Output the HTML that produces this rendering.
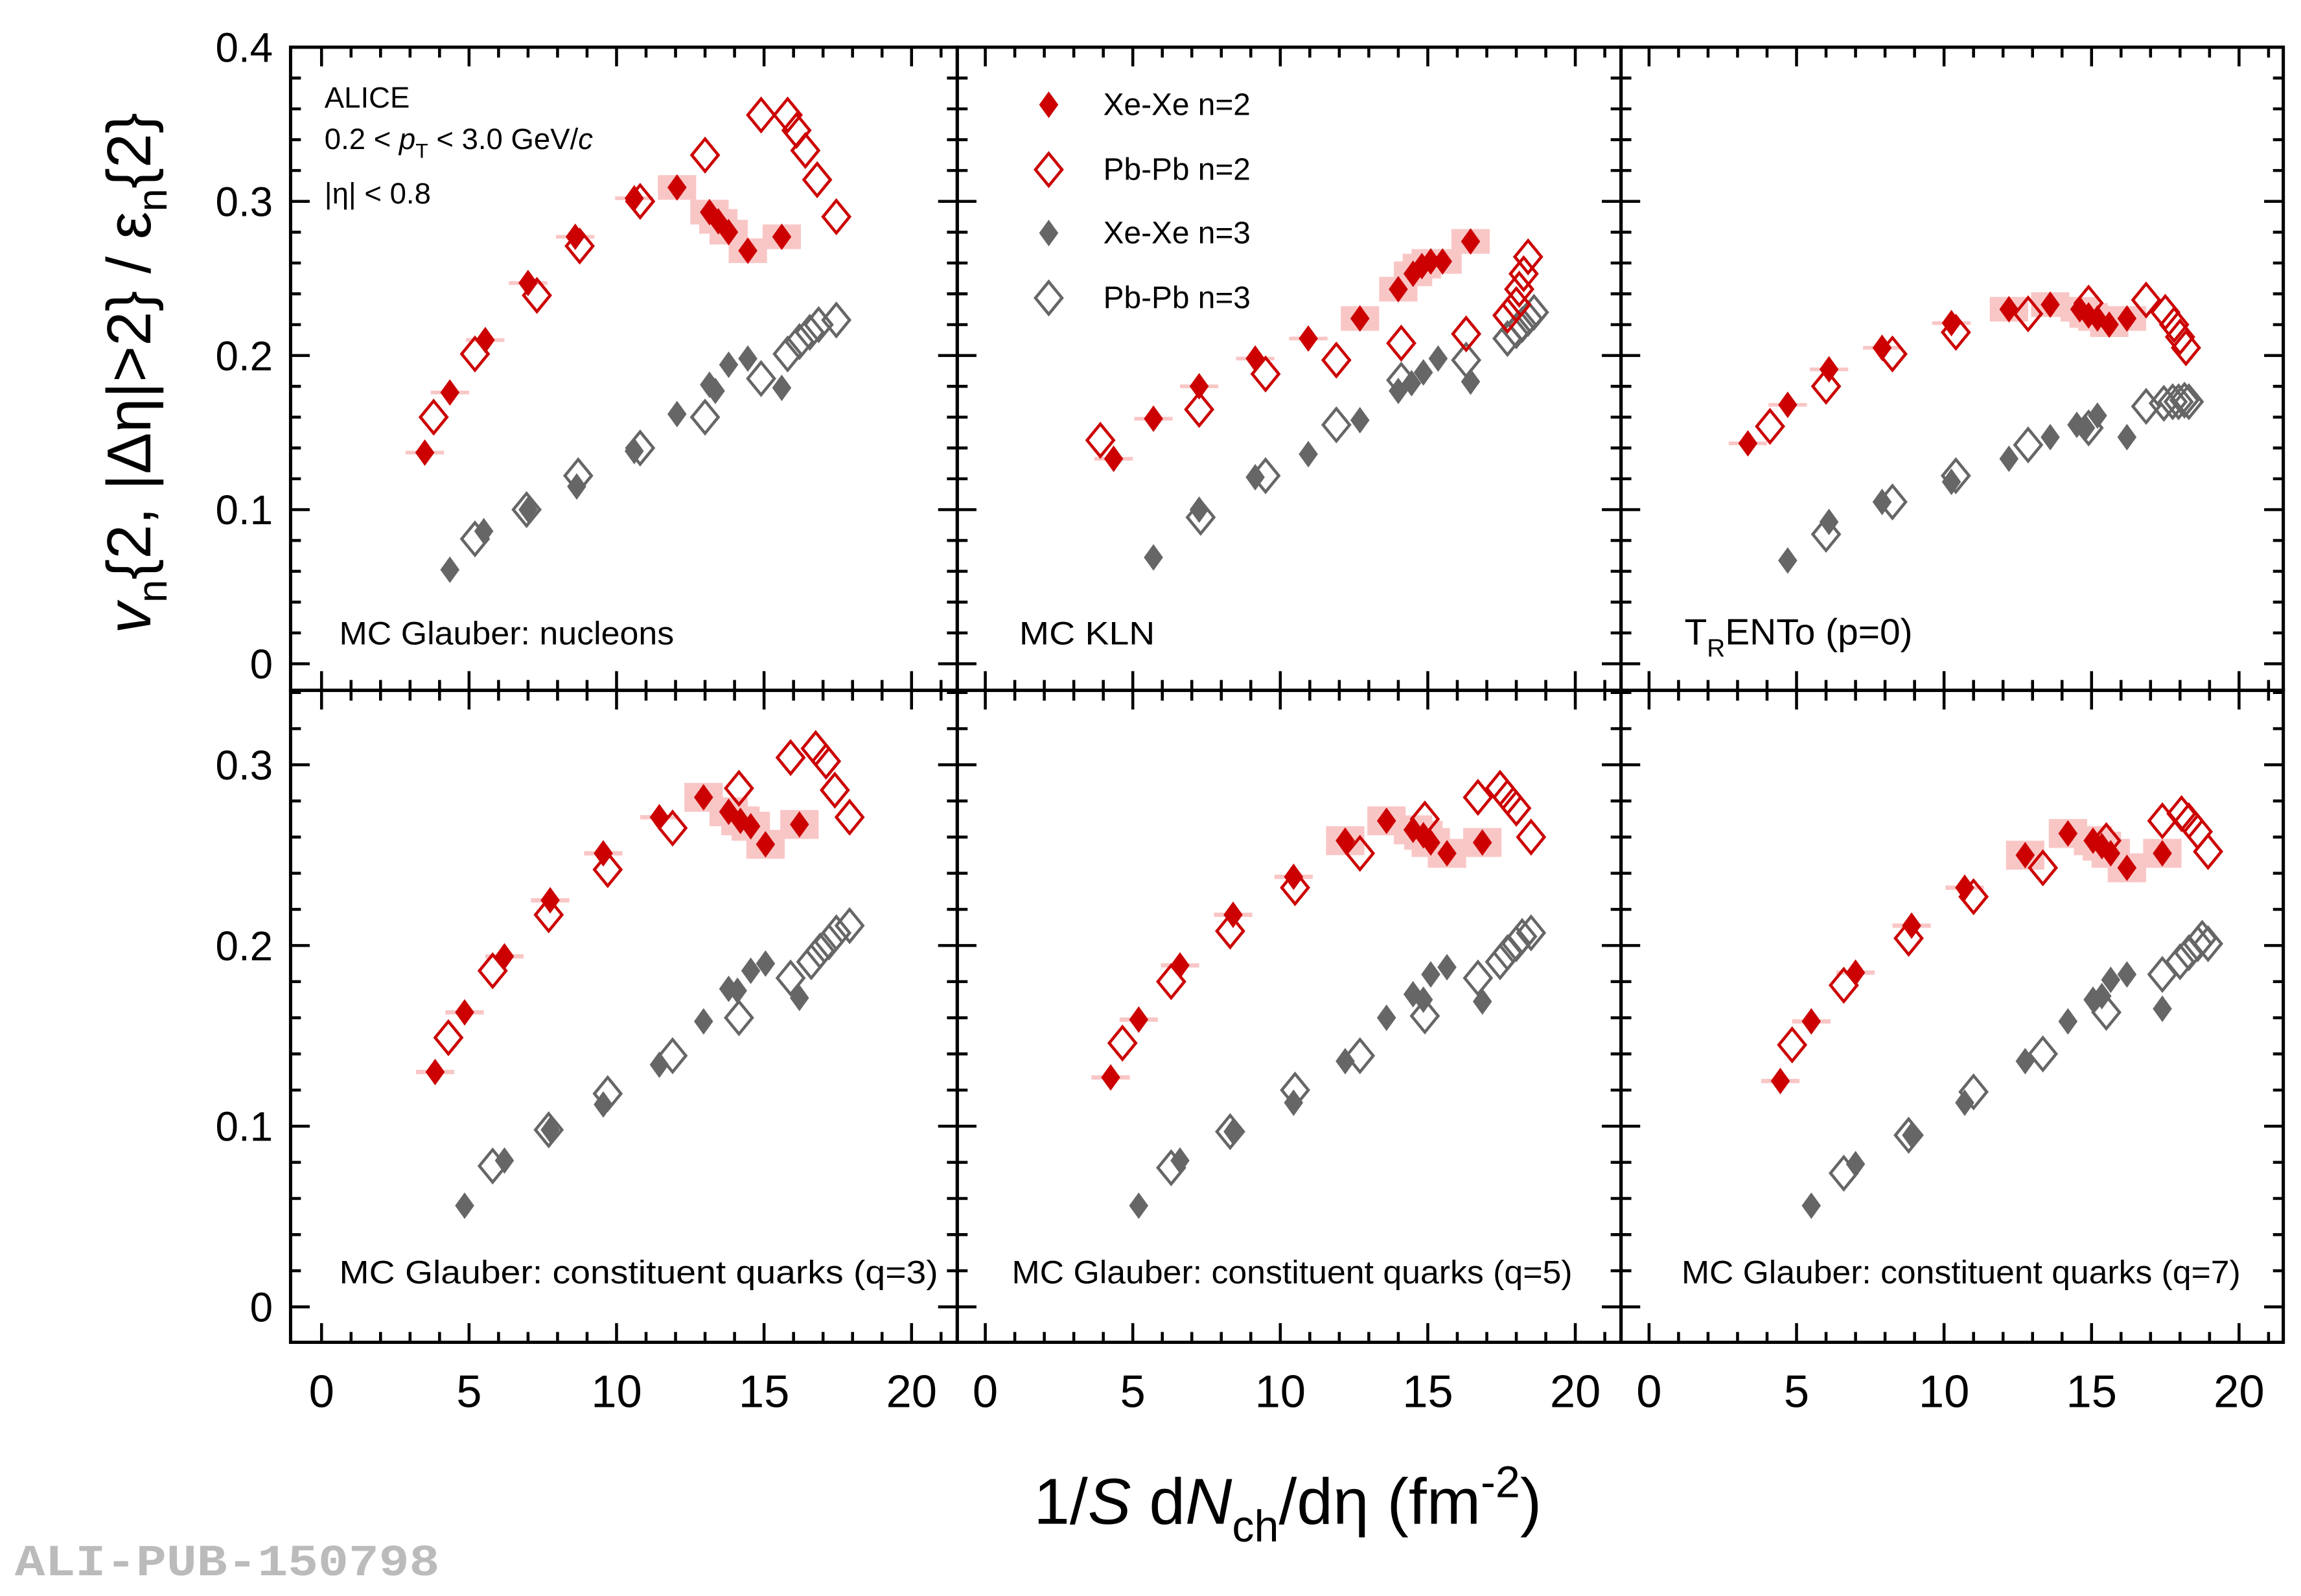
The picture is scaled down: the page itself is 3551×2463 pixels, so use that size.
<!DOCTYPE html>
<html><head><meta charset="utf-8"><style>
html,body{margin:0;padding:0;background:#fff;}
svg{display:block;font-family:"Liberation Sans",sans-serif;}
</style></head><body>
<svg id="chart" width="3551" height="2463" viewBox="0 0 1560 1082" preserveAspectRatio="none" xmlns="http://www.w3.org/2000/svg">
<rect x="0" y="0" width="1560" height="1082" fill="#fff"/>
<g id="layer"></g>
<text transform="translate(102,253) rotate(-90)" text-anchor="middle" font-size="42" fill="#000"><tspan font-style="italic">v</tspan><tspan font-size="28" dy="11">n</tspan><tspan dy="-11">{2, |Δη|&gt;2} / ε</tspan><tspan font-size="28" dy="11">n</tspan><tspan dy="-11">{2}</tspan></text>
<text x="873" y="1033" text-anchor="middle" font-size="44" fill="#000">1/<tspan font-style="italic">S</tspan> d<tspan font-style="italic">N</tspan><tspan font-size="30" dy="12">ch</tspan><tspan dy="-12">/dη (fm</tspan><tspan font-size="30" dy="-18">-2</tspan><tspan dy="18">)</tspan></text>
<text x="10" y="1068" font-family="Liberation Mono, monospace" font-weight="bold" font-size="30" textLength="288" lengthAdjust="spacingAndGlyphs" fill="#bbb">ALI-PUB-150798</text>
<g font-size="20" fill="#000">
<text x="220" y="73">ALICE</text>
<text x="220" y="101">0.2 &lt; <tspan font-style="italic">p</tspan><tspan font-size="14" dy="6">T</tspan><tspan dy="-6"> &lt; 3.0 GeV/</tspan><tspan font-style="italic">c</tspan></text>
<text x="220" y="138">|η| &lt; 0.8</text>
</g>
</svg>
<script>
// panel 1: MC Glauber nucleons
const p1XeN2x=[3.5,4.35,5.55,7.0,8.6,10.6,12.05,13.15,13.45,13.8,14.45,15.6];
const p1XeN2y=[0.137,0.176,0.210,0.247,0.277,0.302,0.309,0.293,0.287,0.280,0.268,0.277];
const p1XeN3x=[4.35,5.5,7.0,8.65,10.6,12.05,13.15,13.35,13.8,14.45,15.6];
const p1XeN3y=[0.061,0.086,0.100,0.115,0.138,0.162,0.181,0.177,0.194,0.198,0.179];
const p1PbN2x=[3.8,5.2,7.3,8.75,10.8,13.0,14.9,15.8,16.1,16.4,16.8,17.45];
const p1PbN2y=[0.160,0.201,0.239,0.271,0.300,0.330,0.356,0.356,0.346,0.333,0.314,0.290];
const p1PbN3x=[5.2,6.95,8.7,10.8,13.0,14.9,15.8,16.2,16.55,16.85,17.45];
const p1PbN3y=[0.081,0.100,0.122,0.140,0.160,0.185,0.201,0.209,0.215,0.220,0.223];
// panel 2: MC KLN
const p2XeN2x=[4.35,5.7,7.25,9.15,10.95,12.7,14.0,14.5,14.8,15.1,15.5,16.45];
const p2XeN2y=[0.133,0.159,0.180,0.198,0.211,0.224,0.243,0.253,0.258,0.261,0.261,0.274];
const p2XeN3x=[5.7,7.25,9.15,10.95,12.7,14.0,14.45,14.85,15.35,16.45];
const p2XeN3y=[0.069,0.100,0.121,0.136,0.158,0.177,0.182,0.189,0.198,0.183];
const p2PbN2x=[3.9,7.25,9.5,11.9,14.1,16.3,17.7,18.0,18.1,18.25,18.4];
const p2PbN2y=[0.145,0.165,0.188,0.197,0.208,0.214,0.226,0.233,0.243,0.253,0.264];
const p2PbN3x=[7.3,9.5,11.9,14.1,16.3,17.7,18.0,18.2,18.4,18.6];
const p2PbN3y=[0.095,0.122,0.155,0.184,0.197,0.211,0.216,0.220,0.224,0.228];
// panel 3: TRENTo
const p3XeN2x=[3.35,4.7,6.1,7.9,10.25,12.2,13.6,14.6,14.9,15.2,15.6,16.2];
const p3XeN2y=[0.143,0.168,0.191,0.205,0.221,0.230,0.233,0.230,0.226,0.224,0.220,0.224];
const p3XeN3x=[4.7,6.1,7.9,10.25,12.2,13.6,14.5,14.8,15.2,16.2];
const p3XeN3y=[0.067,0.092,0.105,0.118,0.133,0.147,0.155,0.153,0.161,0.147];
const p3PbN2x=[4.1,6.0,8.25,10.4,12.85,14.9,16.85,17.5,17.8,18.0,18.2];
const p3PbN2y=[0.154,0.180,0.201,0.215,0.227,0.234,0.236,0.228,0.220,0.212,0.205];
const p3PbN3x=[6.0,8.25,10.4,12.85,14.9,16.85,17.45,17.75,17.95,18.15,18.3];
const p3PbN3y=[0.084,0.105,0.122,0.142,0.153,0.167,0.169,0.170,0.170,0.171,0.170];
// panel 4: quarks q=3
const p4XeN2x=[3.85,4.85,6.2,7.75,9.55,11.45,12.95,13.8,14.2,14.55,15.05,16.2];
const p4XeN2y=[0.130,0.163,0.194,0.225,0.251,0.271,0.282,0.274,0.269,0.266,0.256,0.267];
const p4XeN3x=[4.85,6.2,7.75,9.55,11.45,12.95,13.8,14.1,14.55,15.05,16.2];
const p4XeN3y=[0.056,0.081,0.098,0.112,0.134,0.158,0.176,0.175,0.186,0.190,0.171];
const p4PbN2x=[4.3,5.8,7.7,9.7,11.9,14.15,15.9,16.75,17.1,17.4,17.9];
const p4PbN2y=[0.149,0.186,0.217,0.242,0.265,0.287,0.304,0.309,0.302,0.286,0.271];
const p4PbN3x=[5.8,7.7,9.7,11.9,14.15,15.9,16.6,16.9,17.2,17.45,17.9];
const p4PbN3y=[0.078,0.098,0.118,0.139,0.160,0.182,0.191,0.197,0.202,0.207,0.211];
// panel 5: quarks q=5
const p5XeN2x=[4.25,5.2,6.6,8.4,10.45,12.2,13.6,14.5,14.85,15.1,15.65,16.85];
const p5XeN2y=[0.127,0.159,0.189,0.217,0.238,0.258,0.269,0.264,0.261,0.257,0.251,0.257];
const p5XeN3x=[5.2,6.6,8.4,10.45,12.2,13.6,14.5,14.85,15.1,15.65,16.85];
const p5XeN3y=[0.056,0.081,0.097,0.113,0.136,0.160,0.173,0.170,0.184,0.188,0.169];
const p5PbN2x=[4.65,6.3,8.3,10.5,12.7,14.9,16.7,17.45,17.7,18.0,18.5];
const p5PbN2y=[0.146,0.180,0.208,0.232,0.251,0.270,0.282,0.287,0.282,0.276,0.260];
const p5PbN3x=[6.3,8.3,10.5,12.7,14.9,16.7,17.45,17.7,18.0,18.2,18.5];
const p5PbN3y=[0.077,0.097,0.120,0.139,0.161,0.182,0.191,0.196,0.201,0.205,0.207];
// panel 6: quarks q=7
const p6XeN2x=[4.45,5.5,7.0,8.9,10.7,12.75,14.2,15.05,15.35,15.65,16.2,17.4];
const p6XeN2y=[0.125,0.158,0.185,0.211,0.232,0.250,0.262,0.258,0.255,0.251,0.243,0.251];
const p6XeN3x=[5.5,7.0,8.9,10.7,12.75,14.2,15.05,15.35,15.65,16.2,17.4];
const p6XeN3y=[0.056,0.079,0.095,0.113,0.136,0.158,0.170,0.172,0.181,0.184,0.165];
const p6PbN2x=[4.85,6.6,8.8,11.0,13.35,15.5,17.4,18.05,18.3,18.6,18.95];
const p6PbN2y=[0.145,0.178,0.204,0.227,0.243,0.258,0.269,0.273,0.269,0.263,0.252];
const p6PbN3x=[6.6,8.8,11.0,13.35,15.5,17.4,18.0,18.3,18.6,18.75,18.95];
const p6PbN3y=[0.074,0.095,0.119,0.140,0.163,0.184,0.191,0.196,0.201,0.204,0.201];

const xTicks=[0,5,10,15,20];
const topYTicks=[0,0.1,0.2,0.3,0.4];
const botYTicks=[0,0.1,0.2,0.3];
const panelLabels=["MC Glauber: nucleons","MC KLN","TRENTo","MC Glauber: constituent quarks (q=3)","MC Glauber: constituent quarks (q=5)","MC Glauber: constituent quarks (q=7)"];
const legendLabels=["Xe-Xe n=2","Pb-Pb n=2","Xe-Xe n=3","Pb-Pb n=3"];

const NS="http://www.w3.org/2000/svg";
const layer=document.getElementById('layer');
function mk(tag,attrs,parent){const e=document.createElementNS(NS,tag);for(const k in attrs)e.setAttribute(k,attrs[k]);(parent||layer).appendChild(e);return e;}

const colX0=[218,668,1118];
const colL=[197,649,1099],colR=[649,1099,1548];
function xScale(c,v){return colX0[c]+v*20;}
function yScaleTop(v){return 450-v*1045;}
function yScaleBot(v){return 886-v*1225;}
const RED="#cc0000",GRAY="#666666",PINK="#f9c6c6";

const panels=[
 [p1XeN2x,p1XeN2y,p1XeN3x,p1XeN3y,p1PbN2x,p1PbN2y,p1PbN3x,p1PbN3y],
 [p2XeN2x,p2XeN2y,p2XeN3x,p2XeN3y,p2PbN2x,p2PbN2y,p2PbN3x,p2PbN3y],
 [p3XeN2x,p3XeN2y,p3XeN3x,p3XeN3y,p3PbN2x,p3PbN2y,p3PbN3x,p3PbN3y],
 [p4XeN2x,p4XeN2y,p4XeN3x,p4XeN3y,p4PbN2x,p4PbN2y,p4PbN3x,p4PbN3y],
 [p5XeN2x,p5XeN2y,p5XeN3x,p5XeN3y,p5PbN2x,p5PbN2y,p5PbN3x,p5PbN3y],
 [p6XeN2x,p6XeN2y,p6XeN3x,p6XeN3y,p6PbN2x,p6PbN2y,p6PbN3x,p6PbN3y]];

function diamond(cx,cy,filled,color,parent){
  const hw=filled?6.5:9,hh=filled?9:11;
  return mk('polygon',{points:`${cx},${cy-hh} ${cx+hw},${cy} ${cx},${cy+hh} ${cx-hw},${cy}`,fill:filled?color:'#fff','fill-opacity':filled?1:0,stroke:color,'stroke-width':filled?0:2},parent);
}

const labelPos=[[230,437,227],[691,437,92],[1142,437,173],[230,870,406],[686,870,380],[1140,870,379]];

panels.forEach((arr,pi)=>{
  const c=pi%3,row=Math.floor(pi/3);
  const ys=row===0?yScaleTop:yScaleBot;
  const top=row===0?32:468,bot=row===0?468:910;
  const g=mk('g',{});
  
  
  arr[0].forEach((xv,i)=>{
    const yv=arr[1][i];const hh=xv>12?0.008:0.0012;
    const r=mk('rect',{x:xScale(c,xv-0.65),y:ys(yv+hh),width:26,height:ys(yv-hh)-ys(yv+hh),fill:PINK},g);
    
    
  });
  const series=[[6,7,false,GRAY,'pbpb-n3'],[4,5,false,RED,'pbpb-n2'],[2,3,true,GRAY,'xexe-n3'],[0,1,true,RED,'xexe-n2']];
  series.forEach(s=>{
    const sg=mk('g',{},g);
    
    
    arr[s[0]].forEach((xv,i)=>{
      const p=diamond(xScale(c,xv),ys(arr[s[1]][i]),s[2],s[3],sg);
      
      
    });
  });
  const fr=mk('rect',{x:colL[c],y:top,width:colR[c]-colL[c],height:bot-top,fill:'none',stroke:'#000','stroke-width':2.2},g);
  
  
  for(let v=-1;v<=21;v++){
    const x=xScale(c,v);if(x<=colL[c]+1||x>=colR[c]-1)continue;
    const L=v%5===0?13:7;
    mk('line',{x1:x,y1:bot,x2:x,y2:bot-L,stroke:'#000','stroke-width':2},g);
    mk('line',{x1:x,y1:top,x2:x,y2:top+L,stroke:'#000','stroke-width':2},g);
  }
  const maxv=row===0?0.4:0.34;
  for(let k=0;k<=20;k++){
    const v=k*0.02;if(v>maxv+1e-6)break;
    const y=ys(v);if(y<=top+1||y>=bot-1)continue;
    const L=(k%5===0)?13:7;
    mk('line',{x1:colL[c],y1:y,x2:colL[c]+L,y2:y,stroke:'#000','stroke-width':2},g);
    mk('line',{x1:colR[c],y1:y,x2:colR[c]-L,y2:y,stroke:'#000','stroke-width':2},g);
  }
  const lp=labelPos[pi];
  const lbl=mk('text',{x:lp[0],y:lp[1],'font-size':pi===2?25:22,fill:'#000',textLength:lp[2],lengthAdjust:'spacingAndGlyphs'},g);
  
  
  if(pi===2){lbl.removeAttribute('textLength');lbl.innerHTML='T<tspan font-size="17" dy="8">R</tspan><tspan dy="-8">ENTo (p=0)</tspan>';}
  else lbl.textContent=panelLabels[pi];
});

topYTicks.forEach(v=>{const t=mk('text',{x:185,y:yScaleTop(v)+10,'text-anchor':'end','font-size':28,fill:'#000'});t.textContent=v===0?'0':v.toFixed(1);
  
  });
botYTicks.forEach(v=>{const t=mk('text',{x:185,y:yScaleBot(v)+10,'text-anchor':'end','font-size':28,fill:'#000'});t.textContent=v===0?'0':v.toFixed(1);
  
  });
for(let c=0;c<3;c++)xTicks.forEach(v=>{const t=mk('text',{x:xScale(c,v),y:954,'text-anchor':'middle','font-size':31,fill:'#000'});t.textContent=v;
  
  });

const lg=mk('g',{});


const legStyle=[[true,RED],[false,RED],[true,GRAY],[false,GRAY]];
const legY=[71,115,158,202];
legendLabels.forEach((s,i)=>{
  const e=mk('g',{},lg);
  
  
  diamond(711,legY[i],legStyle[i][0],legStyle[i][1],e);
  const t=mk('text',{x:748,y:legY[i]+7,'font-size':21,fill:'#000'},e);t.textContent=s;
});
</script>
</body></html>
